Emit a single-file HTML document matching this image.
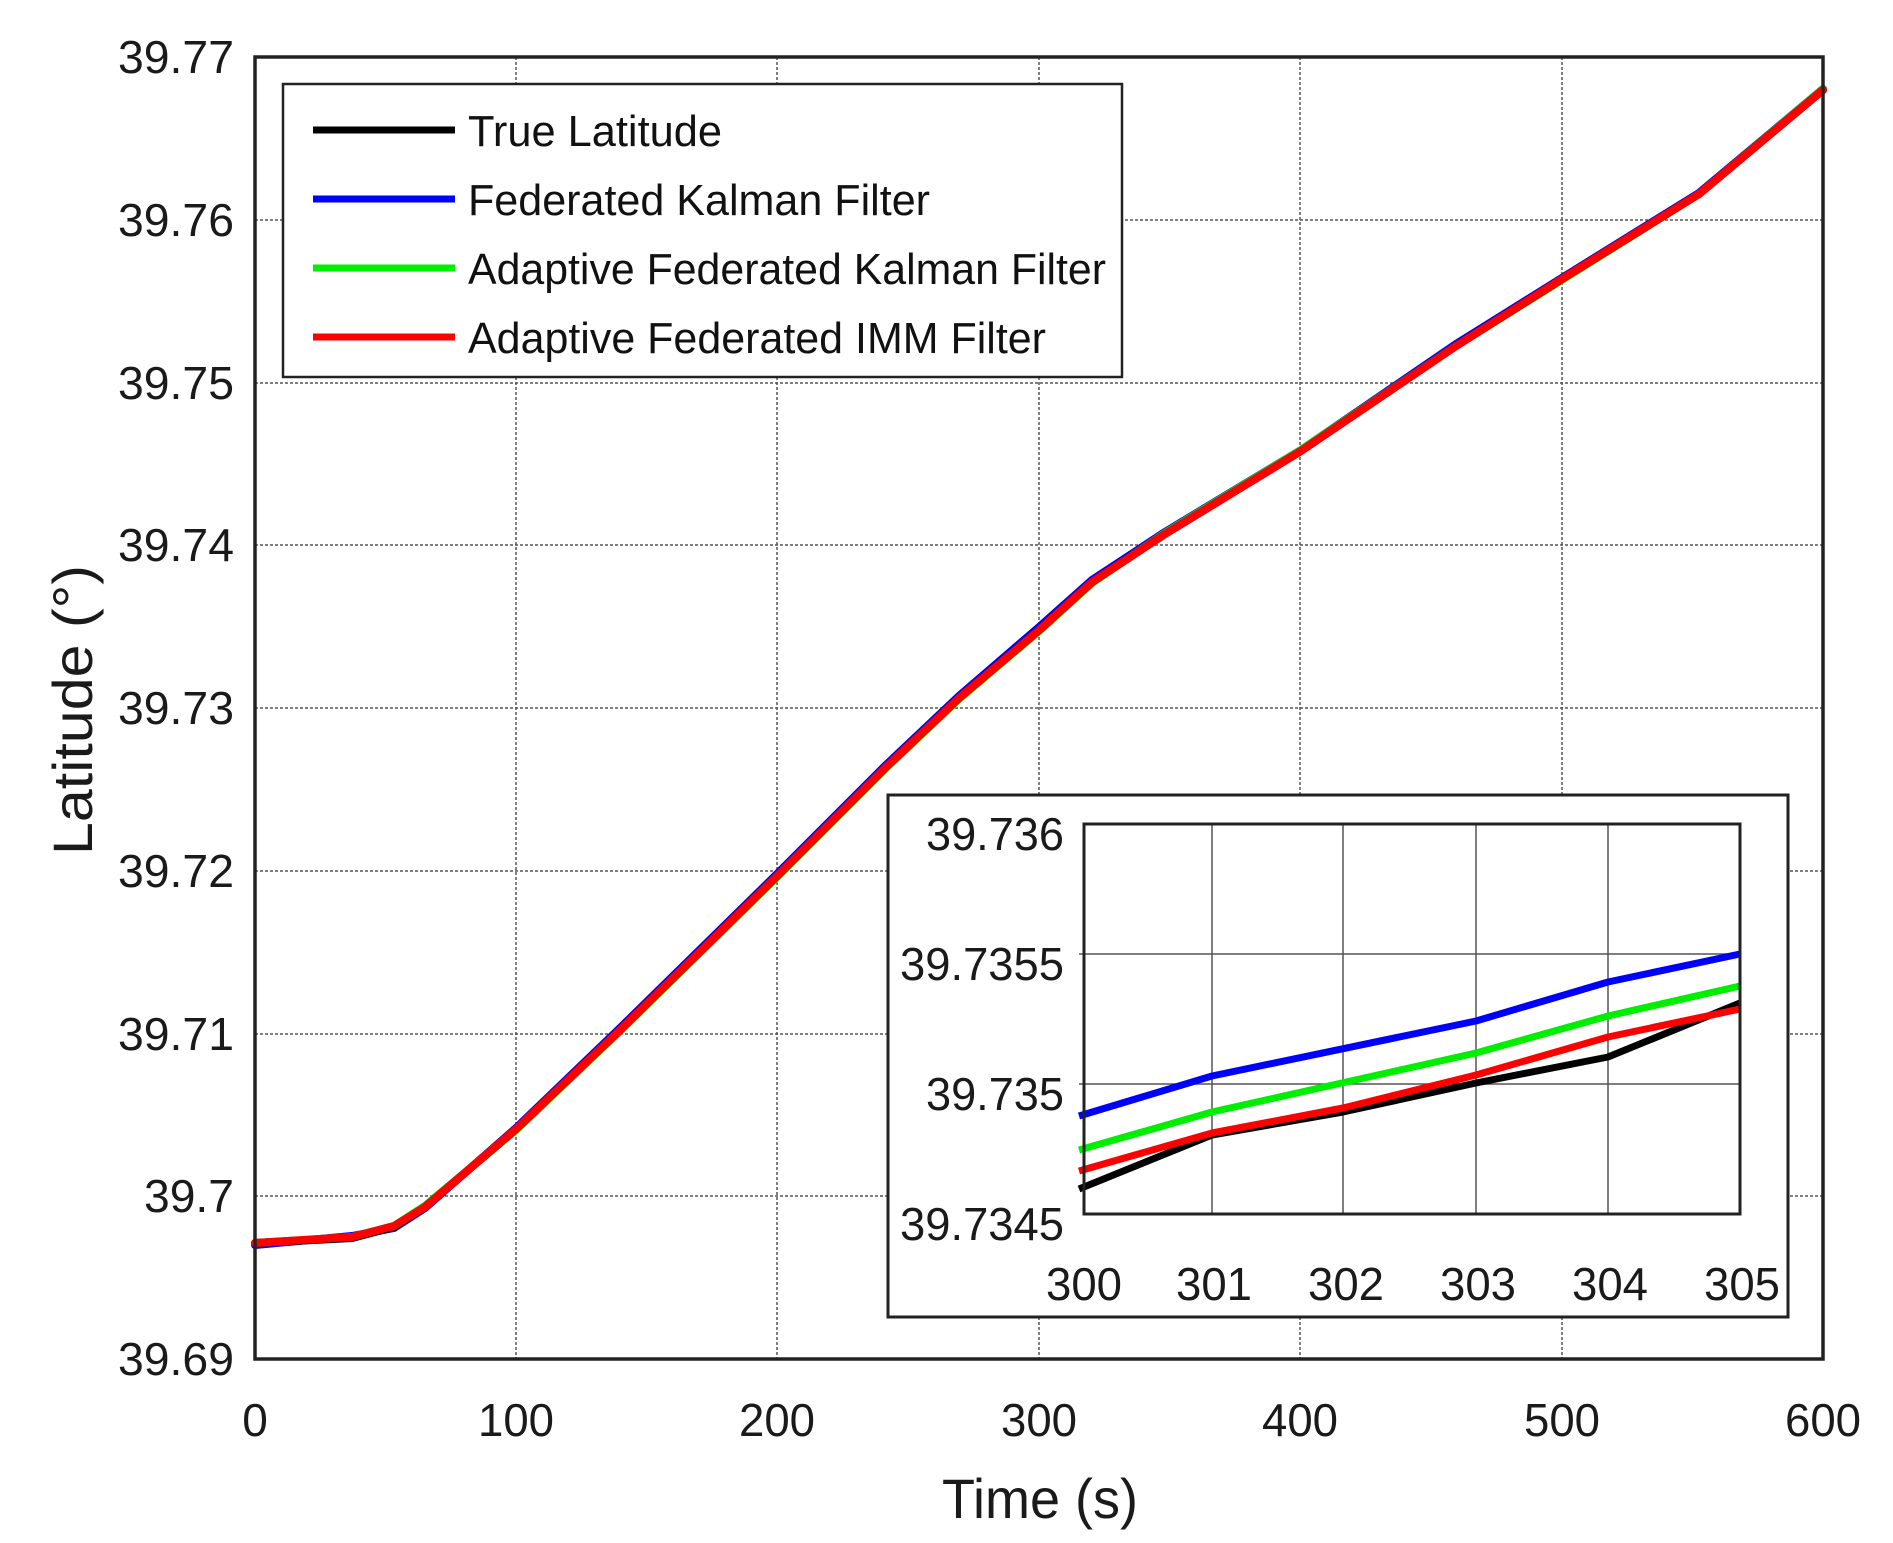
<!DOCTYPE html>
<html><head><meta charset="utf-8"><style>html,body{margin:0;padding:0;background:#fff}svg{display:block}</style></head>
<body>
<svg width="1893" height="1543" viewBox="0 0 1893 1543" xmlns="http://www.w3.org/2000/svg" font-family="Liberation Sans, Arial, sans-serif" fill="#1a1a1a">
<rect width="1893" height="1543" fill="#fff"/>
<g stroke="#555" stroke-width="1.5" stroke-dasharray="3,2">
<line x1="516" y1="57" x2="516" y2="1359"/><line x1="777" y1="57" x2="777" y2="1359"/><line x1="1039" y1="57" x2="1039" y2="1359"/><line x1="1300" y1="57" x2="1300" y2="1359"/><line x1="1562" y1="57" x2="1562" y2="1359"/>
<line x1="255" y1="220" x2="1823" y2="220"/><line x1="255" y1="383" x2="1823" y2="383"/><line x1="255" y1="545" x2="1823" y2="545"/><line x1="255" y1="708" x2="1823" y2="708"/><line x1="255" y1="871" x2="1823" y2="871"/><line x1="255" y1="1034" x2="1823" y2="1034"/><line x1="255" y1="1196" x2="1823" y2="1196"/>
</g>
<g fill="none" stroke-width="8" stroke-linejoin="round" stroke-linecap="round">
<polyline stroke="#0000ff" points="255,1245 352,1236 394,1228 425,1208 516,1128 619,1029 777,874 886,765 959,696 1038,628 1092,580 1165,532 1301,450 1456,344 1565,276 1699,193 1823,89"/>
<polyline stroke="#00ee00" points="255,1243 352,1237 394,1226 425,1206 516,1130 619,1032 777,877 886,768 959,699 1038,632 1092,583 1165,533 1301,450 1456,346 1565,278 1699,194 1823,89"/>
<polyline stroke="#000" points="255,1243 352,1238 394,1227 425,1207 516,1129 619,1031 777,876 886,767 959,698 1038,631 1092,582 1165,534 1301,451 1456,346 1565,277 1699,194 1823,90"/>
<polyline stroke="#ff0000" points="255,1243 352,1237 394,1226 425,1207 516,1129 619,1031 777,876 886,767 959,698 1038,631 1092,582 1165,534 1301,451 1456,346 1565,277 1699,194 1823,90"/>
</g>
<rect x="255" y="57" width="1568" height="1302" fill="none" stroke="#222" stroke-width="3.5"/>
<g font-size="46" text-anchor="end">
<text x="234" y="73" textLength="116" lengthAdjust="spacingAndGlyphs">39.77</text>
<text x="234" y="236" textLength="116" lengthAdjust="spacingAndGlyphs">39.76</text>
<text x="234" y="399" textLength="116" lengthAdjust="spacingAndGlyphs">39.75</text>
<text x="234" y="561" textLength="116" lengthAdjust="spacingAndGlyphs">39.74</text>
<text x="234" y="724" textLength="116" lengthAdjust="spacingAndGlyphs">39.73</text>
<text x="234" y="887" textLength="116" lengthAdjust="spacingAndGlyphs">39.72</text>
<text x="234" y="1050" textLength="116" lengthAdjust="spacingAndGlyphs">39.71</text>
<text x="234" y="1212" textLength="90" lengthAdjust="spacingAndGlyphs">39.7</text>
<text x="234" y="1375" textLength="116" lengthAdjust="spacingAndGlyphs">39.69</text>
</g>
<g font-size="46" text-anchor="middle">
<text x="255" y="1436">0</text>
<text x="516" y="1436" textLength="76" lengthAdjust="spacingAndGlyphs">100</text>
<text x="777" y="1436" textLength="76" lengthAdjust="spacingAndGlyphs">200</text>
<text x="1039" y="1436" textLength="76" lengthAdjust="spacingAndGlyphs">300</text>
<text x="1300" y="1436" textLength="76" lengthAdjust="spacingAndGlyphs">400</text>
<text x="1562" y="1436" textLength="76" lengthAdjust="spacingAndGlyphs">500</text>
<text x="1823" y="1436" textLength="76" lengthAdjust="spacingAndGlyphs">600</text>
</g>
<text x="1040" y="1518" font-size="56" text-anchor="middle" textLength="196" lengthAdjust="spacingAndGlyphs">Time (s)</text>
<text transform="translate(92,710) rotate(-90)" font-size="56" text-anchor="middle" textLength="290" lengthAdjust="spacingAndGlyphs">Latitude (°)</text>
<rect x="283" y="84" width="839" height="293" fill="#fff" stroke="#222" stroke-width="2.5"/>
<g stroke-width="7">
<line x1="313" y1="130" x2="455" y2="130" stroke="#000"/>
<line x1="313" y1="199" x2="455" y2="199" stroke="#0000ff"/>
<line x1="313" y1="268" x2="455" y2="268" stroke="#00ee00"/>
<line x1="313" y1="337" x2="455" y2="337" stroke="#ff0000"/>
</g>
<g font-size="44" fill="#111">
<text x="468" y="146" textLength="254" lengthAdjust="spacingAndGlyphs">True Latitude</text>
<text x="468" y="215" textLength="462" lengthAdjust="spacingAndGlyphs">Federated Kalman Filter</text>
<text x="468" y="284" textLength="638" lengthAdjust="spacingAndGlyphs">Adaptive Federated Kalman Filter</text>
<text x="468" y="353" textLength="578" lengthAdjust="spacingAndGlyphs">Adaptive Federated IMM Filter</text>
</g>
<rect x="888" y="795" width="900" height="522" fill="#fff" stroke="#222" stroke-width="3"/>
<g stroke="#555" stroke-width="1.5">
<line x1="1212" y1="824" x2="1212" y2="1214"/><line x1="1343" y1="824" x2="1343" y2="1214"/><line x1="1476" y1="824" x2="1476" y2="1214"/><line x1="1608" y1="824" x2="1608" y2="1214"/>
<line x1="1079" y1="954" x2="1740" y2="954"/><line x1="1079" y1="1084" x2="1740" y2="1084"/>
</g>
<g fill="none" stroke-width="7" stroke-linejoin="round">
<polyline stroke="#000" points="1079,1189 1212,1135 1343,1112 1476,1083 1608,1057 1740,1003"/>
<polyline stroke="#0000ff" points="1079,1116 1212,1076 1476,1021 1608,982 1740,954"/>
<polyline stroke="#00ee00" points="1079,1150 1212,1112 1476,1053 1608,1016 1740,986"/>
<polyline stroke="#ff0000" points="1079,1171 1212,1133 1343,1108 1476,1075 1608,1037 1740,1009"/>
</g>
<rect x="1084" y="824" width="656" height="390" fill="none" stroke="#222" stroke-width="3"/>
<g font-size="46" text-anchor="end">
<text x="1064" y="850" textLength="138" lengthAdjust="spacingAndGlyphs">39.736</text>
<text x="1064" y="980" textLength="164" lengthAdjust="spacingAndGlyphs">39.7355</text>
<text x="1064" y="1110" textLength="138" lengthAdjust="spacingAndGlyphs">39.735</text>
<text x="1064" y="1240" textLength="164" lengthAdjust="spacingAndGlyphs">39.7345</text>
</g>
<g font-size="46" text-anchor="middle">
<text x="1084" y="1300" textLength="76" lengthAdjust="spacingAndGlyphs">300</text>
<text x="1214" y="1300" textLength="76" lengthAdjust="spacingAndGlyphs">301</text>
<text x="1346" y="1300" textLength="76" lengthAdjust="spacingAndGlyphs">302</text>
<text x="1478" y="1300" textLength="76" lengthAdjust="spacingAndGlyphs">303</text>
<text x="1610" y="1300" textLength="76" lengthAdjust="spacingAndGlyphs">304</text>
<text x="1742" y="1300" textLength="76" lengthAdjust="spacingAndGlyphs">305</text>
</g>
</svg>
</body></html>
